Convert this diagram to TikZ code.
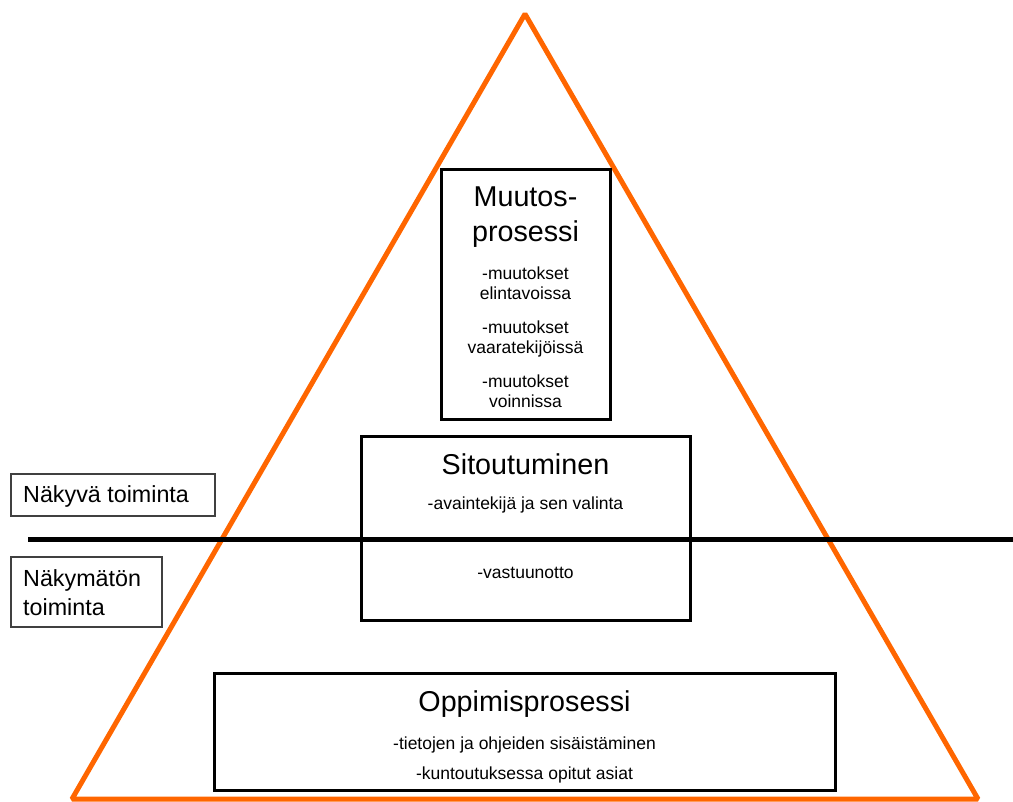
\documentclass[tikz,border=0pt]{standalone}
\usepackage{fontspec}
\setmainfont{Liberation Sans}
\definecolor{triorange}{HTML}{FF6600}
\definecolor{sidegray}{HTML}{404040}
\begin{document}
\begin{tikzpicture}[x=1pt,y=-1pt,
  mainbox/.style={draw=black,line width=3pt,rectangle,inner sep=0pt},
  sidebox/.style={draw=sidegray,line width=1.3pt,rectangle,inner sep=0pt},
  title/.style={anchor=base,inner sep=0pt,font=\fontsize{28.7}{34}\selectfont},
  small/.style={anchor=base,inner sep=0pt,font=\fontsize{17.5}{21}\selectfont},
  side/.style={anchor=base west,inner sep=0pt,font=\fontsize{23.3}{28}\selectfont},
  trianglestyle/.style={draw=triorange,line width=5pt,line join=bevel},
  divider/.style={draw=black,line width=5pt}]
\useasboundingbox (0,0) rectangle (1013,802);
% triangle
\coordinate (apex) at (525,14);
\coordinate (bl) at (72,799);
\coordinate (br) at (978,799);
\draw[trianglestyle] (apex) -- (bl) -- (br) -- cycle;
% boxes
\node[mainbox,minimum width=169pt,minimum height=250pt] (muutos) at (525.5,295) {};
\node[mainbox,minimum width=329pt,minimum height=183pt] (sitou) at (525.5,528.5) {};
\node[mainbox,minimum width=621pt,minimum height=117pt] (oppi) at (524.5,731.5) {};
\node[sidebox,minimum width=204pt,minimum height=42pt] (nakyva) at (113,495) {};
\node[sidebox,minimum width=151pt,minimum height=70pt] (nakymaton) at (86.5,592) {};
% divider line
\coordinate (dl) at (28,539);
\coordinate (dr) at (1013,539);
\draw[divider] (dl) -- (dr);
% texts: Muutosprosessi
\node[title] (m1) at (525.5,207) {Muutos-};
\node[title] (m2) at (525.5,242) {prosessi};
\node[small] (m3) at (525.5,280) {-muutokset};
\node[small] (m4) at (525.5,300) {elintavoissa};
\node[small] (m5) at (525.5,334) {-muutokset};
\node[small] (m6) at (525.5,354) {vaaratekijöissä};
\node[small] (m7) at (525.5,388) {-muutokset};
\node[small] (m8) at (525.5,408) {voinnissa};
% Sitoutuminen
\node[title] (s1) at (525.5,475) {Sitoutuminen};
\node[small] (s2) at (525.5,509) {-avaintekijä ja sen valinta};
\node[small] (s3) at (525.5,578) {-vastuunotto};
% Oppimisprosessi
\node[title] (o1) at (524.5,711) {Oppimisprosessi};
\node[small] (o2) at (524.5,749) {-tietojen ja ohjeiden sisäistäminen};
\node[small] (o3) at (524.5,779) {-kuntoutuksessa opitut asiat};
% side labels
\node[side] (n1) at (23,503) {Näkyvä toiminta};
\node[side] (n2) at (23,586) {Näkymätön};
\node[side] (n3) at (23,615) {toiminta};
\end{tikzpicture}
\end{document}
